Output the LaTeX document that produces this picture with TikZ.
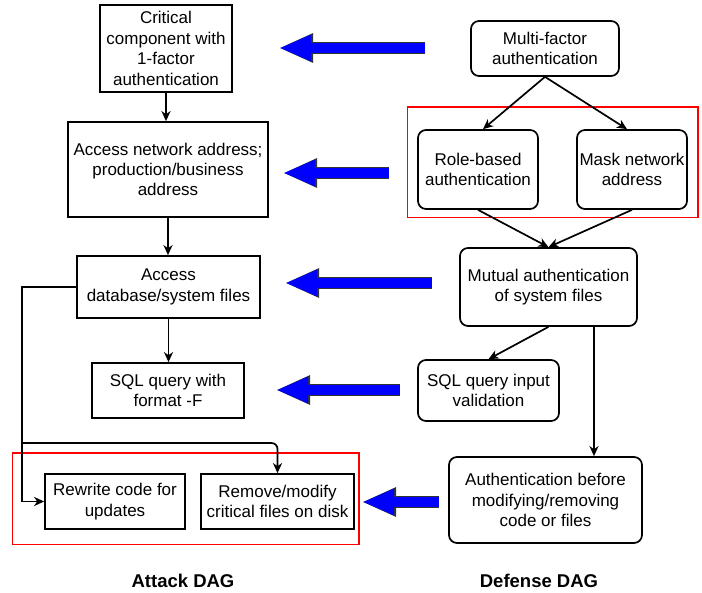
\documentclass[tikz,border=0pt]{standalone}
\usepackage{fontspec}
\setmainfont{Liberation Sans}
\usetikzlibrary{arrows.meta, positioning}
\definecolor{framered}{RGB}{255,0,0}
\tikzset{
  atk/.style={rectangle, draw=black, line width=1.7pt, align=center,
              inner sep=0pt, font=\fontsize{17}{20.4}\selectfont},
  dfn/.style={atk, rounded corners=8pt},
  arr/.style={-{Stealth[length=10pt, width=9pt, inset=3pt]}, draw=black,
              line width=1.7pt},
  redframe/.style={draw=framered, line width=1.3pt},
  bigarrow/.style={draw=blue, line width=10pt,
                   -{Triangle[length=32pt, width=24pt]},
                   shorten <=0.8pt, shorten >=1pt,
                   preaction={draw=black!80, line width=11.6pt,
                              -{Triangle[length=34pt, width=27pt]}}},
  title/.style={font=\fontsize{18.5}{22}\selectfont\bfseries},
}
\begin{document}
\begin{tikzpicture}[x=1pt, y=-1pt]
  \useasboundingbox (0,0) rectangle (702,593);

  % attack DAG
  \node[atk, minimum width=132pt, minimum height=87pt] (crit) at (166,48.5)
    {Critical\\component with\\1-factor\\authentication};
  \node[atk, minimum width=200pt, minimum height=95pt] (net) at (168,169.5)
    {Access network address;\\production/business\\address};
  \node[atk, minimum width=183pt, minimum height=62pt] (db) at (168.5,287)
    {Access\\database/system files};
  \node[atk, minimum width=152pt, minimum height=55pt] (sql) at (168,390.5)
    {SQL query with\\format -F};
  \node[atk, minimum width=140pt, minimum height=55pt] (rew) at (115,501.5)
    {Rewrite code for\\updates};
  \node[atk, minimum width=153pt, minimum height=55pt] (rem) at (277.5,501.5)
    {Remove/modify\\critical files on disk};

  % defense DAG
  \node[dfn, minimum width=148pt, minimum height=55pt] (mfa) at (545,48.5)
    {Multi-factor\\authentication};
  \node[dfn, minimum width=120pt, minimum height=79pt] (role) at (478,169.5)
    {Role-based\\authentication};
  \node[dfn, minimum width=110pt, minimum height=79pt] (mask) at (632,169.5)
    {Mask network\\address};
  \node[dfn, minimum width=177pt, minimum height=78pt] (mut) at (548.5,287)
    {Mutual authentication\\of system files};
  \node[dfn, minimum width=141pt, minimum height=61pt] (val) at (488.5,390.5)
    {SQL query input\\validation};
  \node[dfn, minimum width=193pt, minimum height=86pt] (auth) at (545.5,500)
    {Authentication before\\modifying/removing\\code or files};

  % red groups
  \draw[redframe]
    ([shift={(-32pt,20pt)}]rew.north west) rectangle ([shift={(4pt,-15pt)}]rem.south east)
    ([shift={(-10pt,22pt)}]role.north west) rectangle ([shift={(10pt,-8pt)}]mask.south east);

  \draw[arr] (crit.south) -- (crit.south |- net.north);
  \draw[arr] (net.south) -- (net.south |- db.north);
  \draw[arr] (db.south) -- (db.south |- sql.north);
  \coordinate (split) at (22,443);
  \draw[arr] (db.west) -| (split) |- (rew.west);
  \draw[arr, rounded corners=6pt] (split) -| (rem.north);

  \draw[arr] (mfa.south) -- ([xshift=5pt]role.north);
  \draw[arr] (mfa.south) -- ([xshift=-5pt]mask.north);
  \draw[arr] (role.south) -- (mut.north);
  \draw[arr] (mask.south) -- (mut.north);
  \draw[arr] (mut.south) -- (val.north);
  \draw[arr] ([xshift=45.5pt]mut.south) -- ([xshift=45.5pt]mut.south |- auth.north);

  % mapping arrows
  \coordinate (m1s) at (426,48);  \coordinate (m1e) at (278,48);
  \coordinate (m2s) at (390,173); \coordinate (m2e) at (282,173);
  \coordinate (m3s) at (433,283); \coordinate (m3e) at (284,283);
  \coordinate (m4s) at (401,390); \coordinate (m4e) at (275,390);
  \coordinate (m5s) at (440,502); \coordinate (m5e) at (361,502);
  \draw[bigarrow] (m1s) -- (m1e);
  \draw[bigarrow] (m2s) -- (m2e);
  \draw[bigarrow] (m3s) -- (m3e);
  \draw[bigarrow] (m4s) -- (m4e);
  \draw[bigarrow] (m5s) -- (m5e);

  \node[title] (atitle) at (183,581) {Attack DAG};
  \node[title] (dtitle) at (539,581) {Defense DAG};
\end{tikzpicture}
\end{document}
